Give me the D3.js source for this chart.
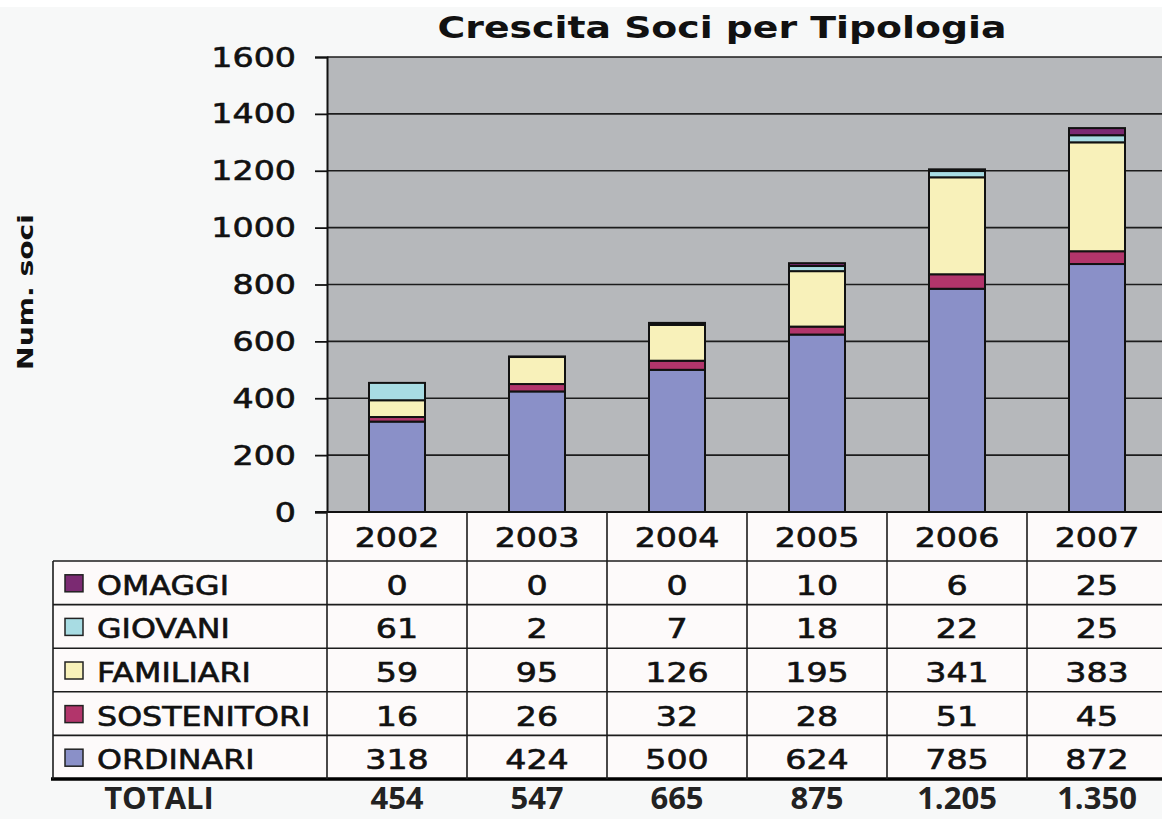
<!DOCTYPE html>
<html><head><meta charset="utf-8">
<script src="https://cdn.jsdelivr.net/npm/d3@7"></script>
<style>
html,body{margin:0;padding:0;background:#f7f8f8;}
svg{display:block;}
</style></head>
<body>
<svg id="chart" width="1162" height="819"></svg>
<script>
const title = "Crescita Soci per Tipologia";
const yLabel = "Num. soci";
const years = ["2002","2003","2004","2005","2006","2007"];
const categories = ["ORDINARI","SOSTENITORI","FAMILIARI","GIOVANI","OMAGGI"];
const ordinari    = [318, 424, 500, 624, 785, 872];
const sostenitori = [16, 26, 32, 28, 51, 45];
const familiari   = [59, 95, 126, 195, 341, 383];
const giovani     = [61, 2, 7, 18, 22, 25];
const omaggi      = [0, 0, 0, 10, 6, 25];
const totaliLabel = "TOTALI";
const totali = ["454","547","665","875","1.205","1.350"];
const yTicks = [0,200,400,600,800,1000,1200,1400,1600];
const colors = ["#8a90c8","#b2356b","#f8f1ba","#a8dce3","#7b2a72"];

const seriesValues = [ordinari, sostenitori, familiari, giovani, omaggi];
const table = years.map((y,i)=>{
  const row = {year:y};
  categories.forEach((c,j)=>row[c]=seriesValues[j][i]);
  return row;
});

const svg = d3.select("#chart");
const W = 1162, H = 819;
const plotL = 327, plotR = 1167, plotT = 57, plotB = 512;
const font = "DejaVu Sans";
const K = 1.28;

svg.append("rect").attr("x",0).attr("y",0).attr("width",W).attr("height",7).attr("fill","#ffffff");

const x = d3.scaleBand().domain(years).range([plotL, plotR]).padding(0);
const y = d3.scaleLinear().domain([0,1600]).range([plotB, plotT]);

function stext(g, px, py, str, o={}) {
  return g.append("text")
    .attr("transform", `translate(${px},${py}) scale(${o.k||K},1)`)
    .attr("text-anchor", o.anchor||"middle")
    .attr("font-family", o.family||font)
    .attr("font-size", o.size||26)
    .attr("font-weight", o.weight||"normal")
    .attr("fill", o.fill||"#111")
    .attr("stroke", o.weight==="bold" ? "none" : "#111")
    .attr("stroke-width", 0.6)
    .text(str);
}

// plot background
svg.append("rect").attr("x",plotL).attr("y",plotT).attr("width",plotR-plotL).attr("height",plotB-plotT).attr("fill","#b6b8bb");

// gridlines
svg.append("g").selectAll("line").data(yTicks.filter(d=>d>0)).join("line")
  .attr("x1",plotL).attr("x2",plotR).attr("y1",d=>y(d)).attr("y2",d=>y(d))
  .attr("stroke","#1c1c1c").attr("stroke-width",1.6);

// bars
const stack = d3.stack().keys(categories);
const stacked = stack(table);
const barW = x.bandwidth()*0.4;
svg.append("g").selectAll("g").data(stacked).join("g")
  .attr("fill",(d,i)=>colors[i])
  .selectAll("rect").data(d=>d).join("rect")
  .attr("x",d=>x(d.data.year)+(x.bandwidth()-barW)/2)
  .attr("width",barW)
  .attr("y",d=>y(d[1]))
  .attr("height",d=>y(d[0])-y(d[1]))
  .attr("stroke","#111").attr("stroke-width",2);

// y axis
const yAxis = d3.axisLeft(y).tickValues(yTicks).tickSize(12).tickFormat("");
const ag = svg.append("g").attr("transform",`translate(${plotL},0)`).call(yAxis);
ag.select(".domain").attr("stroke","#111").attr("stroke-width",2);
ag.selectAll(".tick line").attr("stroke","#111").attr("stroke-width",1.8);
const yl = svg.append("g");
yTicks.forEach(t=>stext(yl, 296, y(t)+9.5, String(t), {anchor:"end"}));

// title
stext(svg, 722, 38, title, {size:30, weight:"bold", k:1.26});

// y label
svg.append("text")
  .attr("transform","translate(33,292) rotate(-90) scale(1.28,1)")
  .attr("text-anchor","middle").attr("font-family",font).attr("font-size",22).attr("font-weight","bold")
  .attr("fill","#111").text(yLabel);

// table
const legL = 53;
const headT = plotB, headB = 561, tableB = 779;
const rowH = (tableB-headB)/5;
const rowsTop = categories.slice().reverse();
const tg = svg.append("g");
tg.append("rect").attr("x",plotL).attr("y",headT).attr("width",plotR-plotL).attr("height",headB-headT).attr("fill","#fdfafa");
tg.append("rect").attr("x",legL).attr("y",headB).attr("width",plotR-legL).attr("height",tableB-headB).attr("fill","#fdfafa");

const hl = d3.range(0,5).map(i=>headB+i*rowH);
tg.selectAll("line.h").data(hl).join("line").attr("class","h")
  .attr("x1",legL).attr("x2",plotR).attr("y1",d=>d).attr("y2",d=>d)
  .attr("stroke","#1c1c1c").attr("stroke-width",1.6);
tg.append("line").attr("x1",plotL-12).attr("x2",plotR).attr("y1",plotB).attr("y2",plotB).attr("stroke","#111").attr("stroke-width",2);
tg.append("line").attr("x1",legL-2).attr("x2",plotR).attr("y1",tableB).attr("y2",tableB).attr("stroke","#000").attr("stroke-width",3.5);
tg.selectAll("line.v").data(years).join("line").attr("class","v")
  .attr("x1",d=>x(d)).attr("x2",d=>x(d)).attr("y1",headT).attr("y2",tableB)
  .attr("stroke","#1c1c1c").attr("stroke-width",1.6);
tg.append("line").attr("x1",legL).attr("x2",legL).attr("y1",headB).attr("y2",tableB).attr("stroke","#1c1c1c").attr("stroke-width",1.6);

years.forEach(yr=>stext(tg, x(yr)+x.bandwidth()/2, (headT+headB)/2+10, yr));

rowsTop.forEach((cat,i)=>{
  const cy = headB + i*rowH + rowH/2;
  const ci = categories.indexOf(cat);
  tg.append("rect").attr("x",65).attr("y",cy-8).attr("width",18).attr("height",17)
    .attr("fill",colors[ci]).attr("stroke","#222").attr("stroke-width",1.5);
  stext(tg, 97, cy+12, cat, {anchor:"start", k:1.22});
  table.forEach(r=>stext(tg, x(r.year)+x.bandwidth()/2, cy+12, String(r[cat])));
});

// totals
const totG = svg.append("g");
totG.append("text").attr("x",159).attr("y",809).attr("text-anchor","middle")
  .attr("font-family","Open Sans").attr("font-weight","bold").attr("font-size",31).attr("fill","#222").text(totaliLabel);
years.forEach((yr,i)=>totG.append("text").attr("x",x(yr)+x.bandwidth()/2).attr("y",809).attr("text-anchor","middle")
  .attr("font-family","Open Sans").attr("font-weight","bold").attr("font-size",31).attr("fill","#222").text(totali[i]));
</script>
</body></html>
